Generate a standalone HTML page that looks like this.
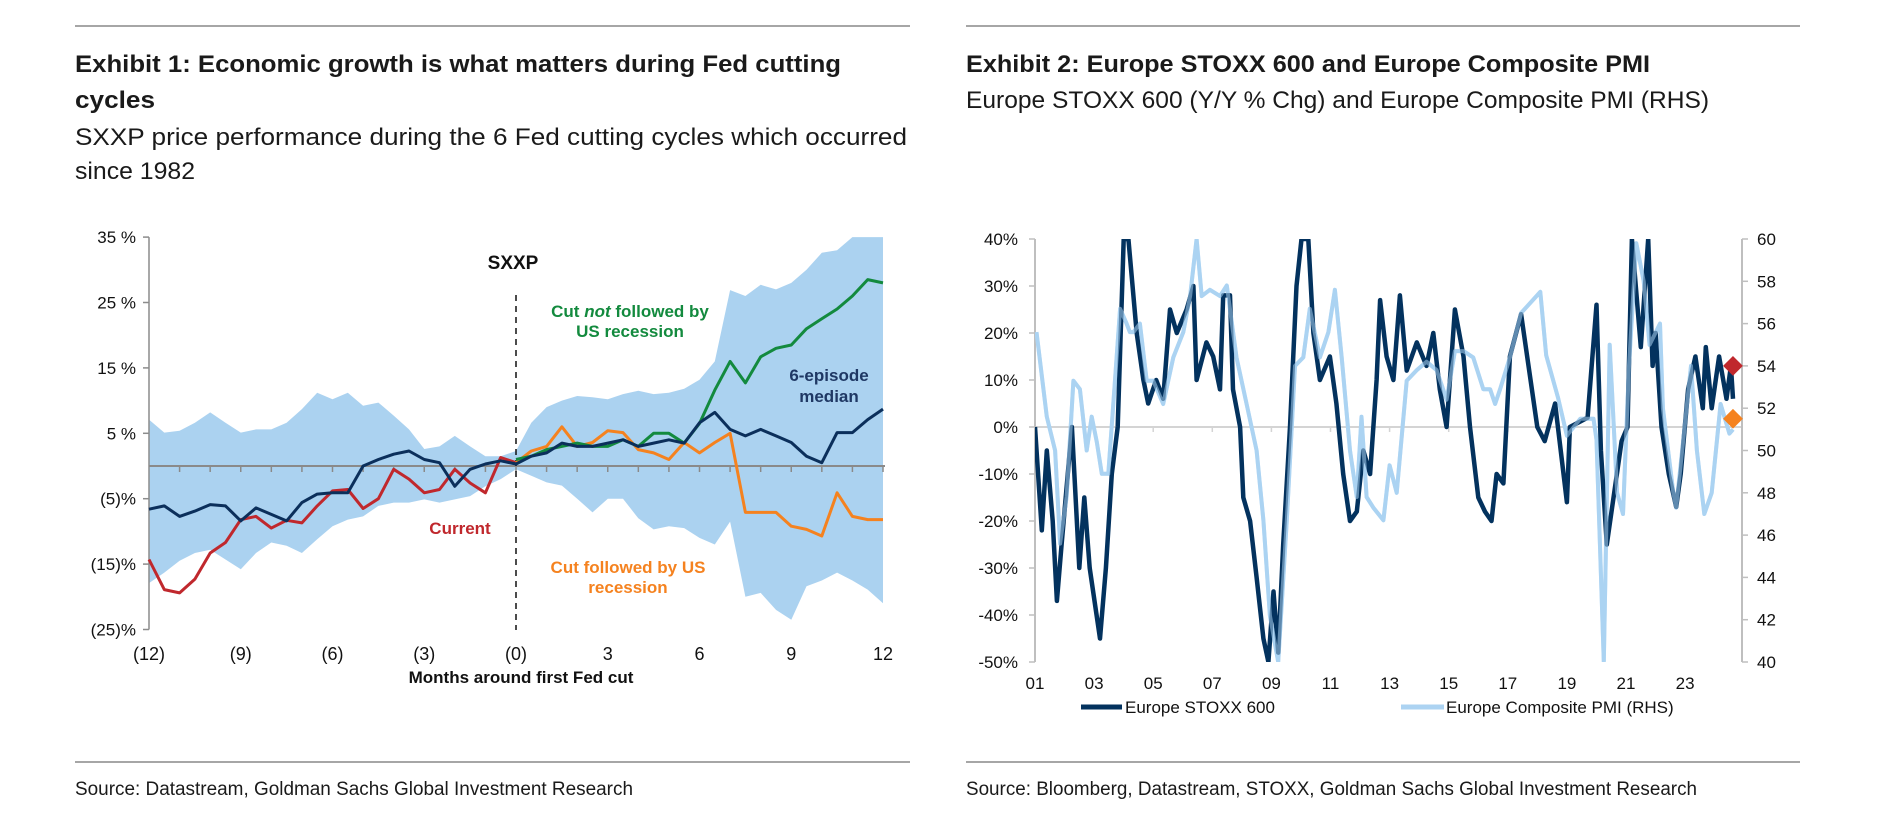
<!DOCTYPE html>
<html><head><meta charset="utf-8"><style>
html,body{margin:0;padding:0;background:#fff;}
svg{display:block;font-family:"Liberation Sans",Arial,sans-serif;}
.narrow{font-family:"Liberation Sans Narrow","Liberation Sans",Arial,sans-serif;}
</style></head><body>
<svg id="root" width="1903" height="836" viewBox="0 0 1903 836" xmlns="http://www.w3.org/2000/svg">
<g>
<line x1="75" y1="26" x2="910" y2="26" stroke="#a6a6a6" stroke-width="2"/>
<line x1="966" y1="26" x2="1800" y2="26" stroke="#a6a6a6" stroke-width="2"/>
<line x1="75" y1="762" x2="910" y2="762" stroke="#a6a6a6" stroke-width="2"/>
<line x1="966" y1="762" x2="1800" y2="762" stroke="#a6a6a6" stroke-width="2"/>
</g>
<g class="narrow" fill="#1a1a1a">
<text x="75" y="72" font-size="24" font-weight="bold" textLength="766" lengthAdjust="spacingAndGlyphs">Exhibit 1: Economic growth is what matters during Fed cutting</text>
<text x="75" y="108" font-size="24" font-weight="bold" textLength="80" lengthAdjust="spacingAndGlyphs">cycles</text>
<text x="75" y="145" font-size="24" textLength="832" lengthAdjust="spacingAndGlyphs">SXXP price performance during the 6 Fed cutting cycles which occurred</text>
<text x="75" y="179" font-size="24" textLength="120" lengthAdjust="spacingAndGlyphs">since 1982</text>
<text x="75" y="795" font-size="19" textLength="558" lengthAdjust="spacingAndGlyphs">Source: Datastream, Goldman Sachs Global Investment Research</text>
</g>
<g class="narrow" fill="#1a1a1a">
<text x="966" y="72" font-size="24" font-weight="bold" textLength="684" lengthAdjust="spacingAndGlyphs">Exhibit 2: Europe STOXX 600 and Europe Composite PMI</text>
<text x="966" y="108" font-size="24" textLength="743" lengthAdjust="spacingAndGlyphs">Europe STOXX 600 (Y/Y % Chg) and Europe Composite PMI (RHS)</text>
<text x="966" y="795" font-size="19" textLength="731" lengthAdjust="spacingAndGlyphs">Source: Bloomberg, Datastream, STOXX, Goldman Sachs Global Investment Research</text>
</g>
<g id="c1"></g>
<g id="c2"></g>
</svg>
<script>
// ---------- Exhibit 1 data ----------
const c1Months = [-12,-11.5,-11,-10.5,-10,-9.5,-9,-8.5,-8,-7.5,-7,-6.5,-6,-5.5,-5,-4.5,-4,-3.5,-3,-2.5,-2,-1.5,-1,-0.5,0,0.5,1,1.5,2,2.5,3,3.5,4,4.5,5,5.5,6,6.5,7,7.5,8,8.5,9,9.5,10,10.5,11,11.5,12];
const c1PreMonths = [-12,-11.5,-11,-10.5,-10,-9.5,-9,-8.5,-8,-7.5,-7,-6.5,-6,-5.5,-5,-4.5,-4,-3.5,-3,-2.5,-2,-1.5,-1,-0.5,0];
const c1PostMonths = [0,0.5,1,1.5,2,2.5,3,3.5,4,4.5,5,5.5,6,6.5,7,7.5,8,8.5,9,9.5,10,10.5,11,11.5,12];
const bandUpper = [7.1,5.1,5.4,6.6,8.2,6.6,5.1,5.6,5.6,6.6,8.7,11.2,10.2,11.2,9.2,9.7,7.7,5.6,2.6,3,4.6,3,1.5,1.5,2.3,6.6,9,10,10.7,10.5,10.2,11,11.5,11,11.2,11.8,13.2,16,26.9,26,27.7,27,28,30,32.6,33,35,35,35];
const bandLower = [-17.9,-16.3,-14.5,-13.3,-12.8,-14.3,-15.8,-13.3,-11.7,-12.2,-13.3,-11.2,-9.2,-8.2,-7.7,-6.1,-5.6,-5.6,-5.1,-5.6,-5.1,-4.6,-3.1,-2,-0.5,-1.5,-2.5,-3,-5,-7.1,-5,-5,-8,-9.7,-9.2,-9.5,-11,-12,-8.5,-20,-19.4,-22,-23.5,-18.4,-17.5,-16.3,-17.5,-18.9,-21];
const medianVals = [-6.6,-6.1,-7.7,-6.9,-5.9,-6.1,-8.4,-6.4,-7.4,-8.4,-5.6,-4.3,-4.1,-4.1,0,1,1.8,2.3,1,0.5,-3.1,-0.5,0.3,0.8,0.3,1.5,2,3.5,3,3,3.5,4,3,3.5,4,3.5,6.6,8.2,5.6,4.6,5.6,4.6,3.6,1.5,0.5,5.1,5.1,7.1,8.7];
const currentVals = [-14.3,-18.9,-19.4,-17.3,-13.3,-11.7,-8.2,-7.7,-9.5,-8.3,-8.7,-6.1,-3.8,-3.6,-6.5,-5,-0.5,-2,-4.1,-3.6,-0.5,-2.6,-4.1,1.3,0.5];
const noRecessionVals = [1,1.5,2.5,3,3.5,3,3,4,3,5,5,3.5,6.5,11.6,16,12.7,16.7,18,18.5,21,22.5,24,26,28.5,28];
const recessionVals = [0.5,2.3,3,6,3,3.6,5.4,5.1,2.5,2,1,3.6,2,3.6,5,-7.1,-7.1,-7.1,-9.2,-9.7,-10.7,-4.1,-7.7,-8.2,-8.2];
const c1YTicks = [35,25,15,5,-5,-15,-25];
const c1YLabels = ["35 %","25 %","15 %","5 %","(5)%","(15)%","(25)%"];
const c1XTicks = [-12,-9,-6,-3,0,3,6,9,12];
const c1XLabels = ["(12)","(9)","(6)","(3)","(0)","3","6","9","12"];

// ---------- Exhibit 2 data ----------
const stoxxYears = [2001,2001.23,2001.4,2001.6,2001.74,2001.9,2002.25,2002.5,2002.67,2002.85,2003.2,2003.4,2003.6,2003.8,2004.0,2004.16,2004.44,2004.67,2004.83,2005.1,2005.34,2005.57,2005.8,2006.13,2006.36,2006.47,2006.8,2007.03,2007.26,2007.37,2007.6,2007.7,2007.94,2008.05,2008.28,2008.5,2008.73,2008.9,2009.07,2009.23,2009.4,2009.63,2009.85,2010.02,2010.25,2010.42,2010.64,2010.98,2011.2,2011.43,2011.66,2011.89,2012.11,2012.34,2012.56,2012.68,2012.9,2013.13,2013.35,2013.58,2013.92,2014.25,2014.48,2014.7,2014.93,2015.21,2015.5,2015.72,2016.0,2016.23,2016.45,2016.62,2016.85,2017.07,2017.45,2018.0,2018.25,2018.6,2019.0,2019.1,2019.7,2020.0,2020.15,2020.35,2020.85,2021.05,2021.2,2021.5,2021.75,2021.9,2022.0,2022.2,2022.45,2022.7,2022.85,2023.1,2023.35,2023.6,2023.7,2023.9,2024.15,2024.4,2024.55,2024.62];
const stoxxVals = [0,-22,-5,-20,-37,-25,0,-30,-15,-30,-45,-30,-10,0,40,40,20,10,5,10,6,25,20,25,30,10,18,15,8,28,28,8,0,-15,-20,-32,-45,-50,-35,-48,-25,0,30,40,40,20,10,15,5,-10,-20,-18,-5,-10,10,27,15,10,28,12,18,13,20,8,0,25,15,0,-15,-18,-20,-10,-12,15,24,0,-3,5,-16,0,2,26,-5,-25,-3,0,40,17,40,13,20,0,-10,-17,-10,8,15,4,17,4,15,6,13,6];
const pmiYears = [2001.05,2001.4,2001.68,2001.85,2002.07,2002.3,2002.52,2002.75,2002.92,2003.09,2003.26,2003.48,2003.65,2003.88,2004.1,2004.21,2004.33,2004.55,2004.78,2005.0,2005.34,2005.68,2006.02,2006.25,2006.47,2006.64,2006.92,2007.26,2007.49,2007.82,2008.16,2008.5,2008.73,2008.95,2009.23,2009.52,2009.8,2010.08,2010.3,2010.64,2010.93,2011.15,2011.38,2011.66,2011.89,2012.05,2012.22,2012.45,2012.79,2013.0,2013.24,2013.58,2013.92,2014.25,2014.59,2014.93,2015.21,2015.5,2015.83,2016.17,2016.4,2016.57,2016.74,2017.07,2017.45,2018.1,2018.3,2018.7,2019.0,2019.45,2019.9,2020.0,2020.25,2020.45,2020.7,2020.9,2021.1,2021.35,2021.6,2021.8,2022.15,2022.25,2022.6,2022.7,2023.2,2023.4,2023.65,2023.9,2024.2,2024.5,2024.62];
const pmiVals = [55.6,51.6,50,45.6,47.8,53.3,52.9,50,51.6,50.4,48.9,48.9,52.2,56.7,56,55.6,55.6,56,53.3,53.3,52.2,54.4,55.6,57.3,60,57.3,57.6,57.3,57.8,54.4,52.2,50,46.7,42.2,40,46.7,54,54.4,56.7,54.4,55.6,57.6,54.4,50,47.8,51.6,47.8,47.3,46.7,49.3,48,53.3,53.8,54.2,53.8,52.4,54.7,54.7,54.4,52.9,52.9,52.2,52.9,54.4,56.5,57.5,54.5,52.5,50.7,51.5,51.5,50.5,40,55,48,47,54,59.8,58,55,56,52,48,47.3,54,50,47,48,52.2,50.8,51];
const c2LeftTicks = [40,30,20,10,0,-10,-20,-30,-40,-50];
const c2LeftLabels = ["40%","30%","20%","10%","0%","-10%","-20%","-30%","-40%","-50%"];
const c2RightTicks = [60,58,56,54,52,50,48,46,44,42,40];
const c2XYears = [2001,2003,2005,2007,2009,2011,2013,2015,2017,2019,2021,2023];
const c2XLabels = ["01","03","05","07","09","11","13","15","17","19","21","23"];
const latestStoxx = 13;
const latestPmi = 51.5;

const NS = "http://www.w3.org/2000/svg";
function mk(parent, tag, attrs, txt){
  const e = document.createElementNS(NS, tag);
  for (const k in attrs) e.setAttribute(k, attrs[k]);
  if (txt !== undefined) e.textContent = txt;
  parent.appendChild(e);
  return e;
}
function pathFrom(xs, ys, fx, fy){
  return xs.map((x,i)=>(i?'L':'M')+fx(x).toFixed(1)+' '+fy(ys[i]).toFixed(1)).join(' ');
}

// ---------- draw Exhibit 1 ----------
(function(){
  const g = document.getElementById('c1');
  const X0=149, X1=883, Y0=466, PX10=65.4;
  const x = m => X0 + (m+12)*(X1-X0)/24;
  const y = v => Y0 - v*PX10/10;
  let d = pathFrom(c1Months, bandUpper, x, y);
  for (let i=c1Months.length-1;i>=0;i--) d += ' L'+x(c1Months[i]).toFixed(1)+' '+y(bandLower[i]).toFixed(1);
  const band = mk(g,'path',{d:d+' Z',fill:'#abd2f0',stroke:'none'});
  
  
  const ya = mk(g,'line',{x1:X0,y1:y(35),x2:X0,y2:y(-25),stroke:'#8c8c8c','stroke-width':1.5});
  
  
  c1YTicks.forEach((t,i)=>{
    mk(g,'line',{x1:X0-6,y1:y(t),x2:X0,y2:y(t),stroke:'#8c8c8c','stroke-width':1.5});
    const tl = mk(g,'text',{x:136,y:y(t)+6,'text-anchor':'end','font-size':17,fill:'#111'},c1YLabels[i]);
    
    
  });
  const zl = mk(g,'line',{x1:X0,y1:Y0,x2:X1+2,y2:Y0,stroke:'#8a8a8a','stroke-width':2});
  
  
  for (let m=-11;m<=12;m++) mk(g,'line',{x1:x(m),y1:Y0,x2:x(m),y2:Y0+6,stroke:'#8a8a8a','stroke-width':1.5});
  c1XTicks.forEach((t,i)=>{
    const tl = mk(g,'text',{x:x(t),y:660,'text-anchor':'middle','font-size':18,fill:'#111'},c1XLabels[i]);
    
    
  });
  const xt = mk(g,'text',{x:521,y:683,'text-anchor':'middle','font-size':17,'font-weight':'bold',fill:'#111'},'Months around first Fed cut');
  
  
  const dl = mk(g,'line',{x1:x(0),y1:295,x2:x(0),y2:630,stroke:'#111','stroke-width':1.5,'stroke-dasharray':'6,5'});
  
  
  const series = [
    ['line-current', c1PreMonths, currentVals, '#c0282d'],
    ['line-recession', c1PostMonths, recessionVals, '#f5821f'],
    ['line-no-recession', c1PostMonths, noRecessionVals, '#138a3e'],
    ['line-median', c1Months, medianVals, '#0b2f5b']
  ];
  series.forEach(s=>{
    const p = mk(g,'path',{d:pathFrom(s[1],s[2],x,y),fill:'none',stroke:s[3],'stroke-width':3,'stroke-linejoin':'round'});
    
    
  });
  const labels = [
    ['chart-label-sxxp',513,269,'SXXP','#111',19],
    ['label-no-recession-1',630,317,null,'#138a3e',17],
    ['label-no-recession-2',630,337,'US recession','#138a3e',17],
    ['label-median-1',829,381,'6-episode','#1f3864',17],
    ['label-median-2',829,402,'median','#1f3864',17],
    ['label-current',460,534,'Current','#c0282d',17],
    ['label-recession-1',628,573,'Cut followed by US','#f5821f',17],
    ['label-recession-2',628,593,'recession','#f5821f',17]
  ];
  labels.forEach(l=>{
    const t = mk(g,'text',{x:l[1],y:l[2],'text-anchor':'middle','font-size':l[5],'font-weight':'bold',fill:l[4]});
    if (l[3]===null){
      mk(t,'tspan',{},'Cut ');
      mk(t,'tspan',{'font-style':'italic'},'not');
      mk(t,'tspan',{},' followed by');
    } else t.textContent = l[3];
    
    
  });
})();

// ---------- draw Exhibit 2 ----------
(function(){
  const g = document.getElementById('c2');
  const XL=1035, XR=1742, YT=239, YB=662;
  const x = yr => XL + (yr-2001)*29.55;
  const y = v => YT + (40-v)*(YB-YT)/90;
  const yp = p => YB - (p-40)*(YB-YT)/20;
  const zl = mk(g,'line',{x1:XL,y1:y(0),x2:XR,y2:y(0),stroke:'#d4d4d4','stroke-width':2});
  
  
  c2XYears.slice(1).forEach(t=>mk(g,'line',{x1:x(t),y1:y(0),x2:x(t),y2:y(0)+5,stroke:'#d4d4d4','stroke-width':1.5}));
  const la = mk(g,'line',{x1:XL,y1:YT,x2:XL,y2:YB,stroke:'#bfbfbf','stroke-width':2});
  
  
  const ra = mk(g,'line',{x1:XR,y1:YT,x2:XR,y2:YB,stroke:'#bfbfbf','stroke-width':2});
  
  
  c2LeftTicks.forEach((t,i)=>{
    mk(g,'line',{x1:XL-6,y1:y(t),x2:XL,y2:y(t),stroke:'#bfbfbf','stroke-width':1.5});
    const tl = mk(g,'text',{x:1018,y:y(t)+6,'text-anchor':'end','font-size':17,fill:'#111'},c2LeftLabels[i]);
    
    
  });
  c2RightTicks.forEach(t=>{
    mk(g,'line',{x1:XR,y1:yp(t),x2:XR+6,y2:yp(t),stroke:'#bfbfbf','stroke-width':1.5});
    const tl = mk(g,'text',{x:1757,y:yp(t)+6,'font-size':17,fill:'#111'},String(t));
    
    
  });
  c2XYears.forEach((t,i)=>{
    const tl = mk(g,'text',{x:x(t),y:689,'text-anchor':'middle','font-size':17,fill:'#111'},c2XLabels[i]);
    
    
  });
  const clip = mk(g,'clipPath',{id:'c2clip'});
  mk(clip,'rect',{x:XL,y:YT,width:XR-XL,height:YB-YT});
  const pm = mk(g,'path',{d:pathFrom(pmiYears,pmiVals,x,yp),fill:'none',stroke:'#acd3f2','stroke-width':4,'stroke-linejoin':'round','clip-path':'url(#c2clip)'});
  
  
  const st = mk(g,'path',{d:pathFrom(stoxxYears,stoxxVals,x,y),fill:'none',stroke:'#03325e','stroke-width':4.5,'stroke-linejoin':'round','clip-path':'url(#c2clip)'});
  
  
  g.appendChild(pm.cloneNode()).setAttribute('opacity','0.55');
  const dx = x(stoxxYears[stoxxYears.length-1]);
  const d1 = mk(g,'rect',{x:dx-7,y:y(latestStoxx)-7,width:14,height:14,fill:'#c0282d',transform:'rotate(45 '+dx+' '+y(latestStoxx)+')'});
  
  
  const d2 = mk(g,'rect',{x:dx-7,y:yp(latestPmi)-7,width:14,height:14,fill:'#f5821f',transform:'rotate(45 '+dx+' '+yp(latestPmi)+')'});
  
  
  const lg = mk(g,'g',{});
  
  
  mk(lg,'line',{x1:1081,y1:707,x2:1122,y2:707,stroke:'#03325e','stroke-width':5});
  const t1 = mk(lg,'text',{x:1125,y:713,'font-size':17,fill:'#111'},'Europe STOXX 600');
  
  
  mk(lg,'line',{x1:1401,y1:707,x2:1444,y2:707,stroke:'#acd3f2','stroke-width':5});
  const t2 = mk(lg,'text',{x:1446,y:713,'font-size':17,fill:'#111'},'Europe Composite PMI (RHS)');
  
  
})();
</script>
</body></html>
